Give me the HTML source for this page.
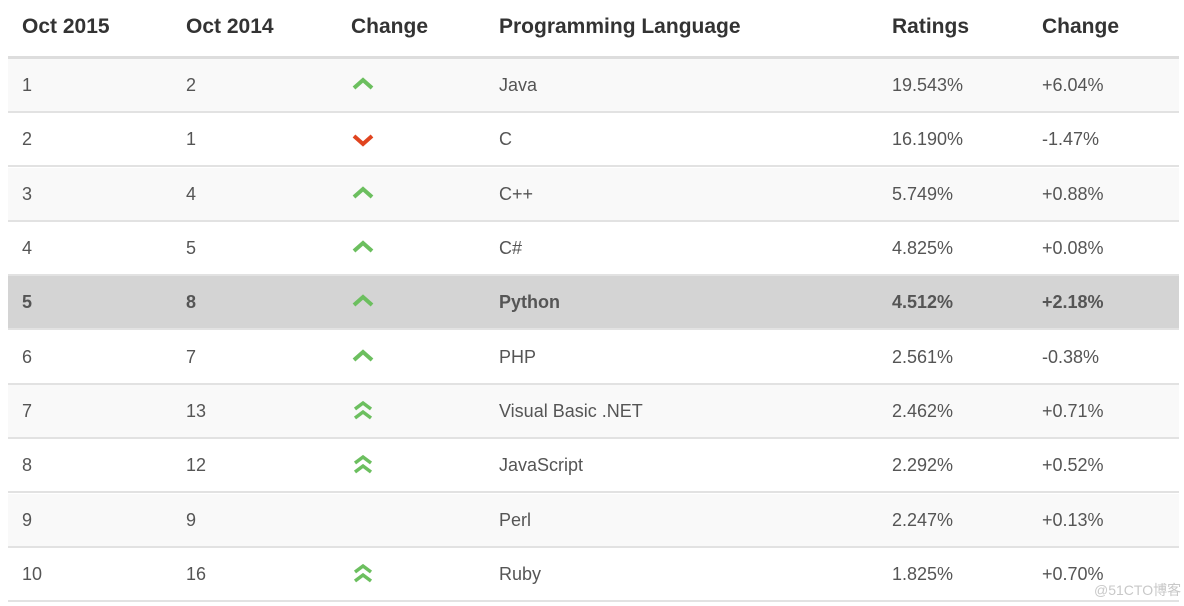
<!DOCTYPE html>
<html><head><meta charset="utf-8"><style>
body{margin:0;width:1184px;height:606px;background:#fff;position:relative;overflow:hidden;font-family:"Liberation Sans",Arial,sans-serif}
.h{position:absolute;top:15px;font-weight:bold;font-size:21px;color:#333}
.r{position:absolute;left:8px;width:1171px;height:52px;border-bottom:2px solid #e2e2e2}
.c{position:absolute;top:0;line-height:52px;font-size:18px;color:#555}
.b .c{font-weight:bold}
svg{position:absolute}
.wm{position:absolute;left:1094px;top:580px;font-size:14px;white-space:nowrap;color:#c8c8c8;font-family:"Liberation Sans","Noto Sans CJK SC",sans-serif}
</style></head><body>
<div class="h" style="left:22px">Oct 2015</div>
<div class="h" style="left:186px">Oct 2014</div>
<div class="h" style="left:351px">Change</div>
<div class="h" style="left:499px">Programming Language</div>
<div class="h" style="left:892px">Ratings</div>
<div class="h" style="left:1042px">Change</div>
<div style="position:absolute;left:8px;top:56px;width:1171px;height:3px;background:#ddd"></div>
<div id="t"></div>
<div class="wm">@51CTO博客</div>
<script>
var d=[["1","2","u","Java","19.543%","+6.04%"],["2","1","d","C","16.190%","-1.47%"],["3","4","u","C++","5.749%","+0.88%"],["4","5","u","C#","4.825%","+0.08%"],["5","8","u","Python","4.512%","+2.18%"],["6","7","u","PHP","2.561%","-0.38%"],["7","13","uu","Visual Basic .NET","2.462%","+0.71%"],["8","12","uu","JavaScript","2.292%","+0.52%"],["9","9","","Perl","2.247%","+0.13%"],["10","16","uu","Ruby","1.825%","+0.70%"]];
var xs=[14,178,0,491,884,1034],h="";
d.forEach(function(r,i){var top=59+i*54.33;var bg=i==4?"#d4d4d4":(i%2==0?"#f9f9f9":"#fff");
h+='<div class="r'+(i==4?' b':'')+'" style="top:'+top+'px;background:'+bg+'">';
[0,1,3,4,5].forEach(function(k){h+='<div class="c" style="left:'+xs[k]+'px">'+r[k]+'</div>';});
if(r[2]=="u")h+='<svg style="left:343px;top:18px" width="24" height="16"><polyline points="3,11 12,3 21,11" fill="none" stroke="#6cbf5f" stroke-width="4"/></svg>';
if(r[2]=="d")h+='<svg style="left:343px;top:20px" width="24" height="16"><polyline points="3,3 12,11 21,3" fill="none" stroke="#e0441f" stroke-width="4"/></svg>';
if(r[2]=="uu")h+='<svg style="left:343px;top:14px" width="24" height="24"><polyline points="4,10 12,4 20,10" fill="none" stroke="#6cbf5f" stroke-width="3.5"/><polyline points="4,19 12,13 20,19" fill="none" stroke="#6cbf5f" stroke-width="3.5"/></svg>';
h+='</div>';});
document.getElementById("t").innerHTML=h;
</script>
</body></html>
